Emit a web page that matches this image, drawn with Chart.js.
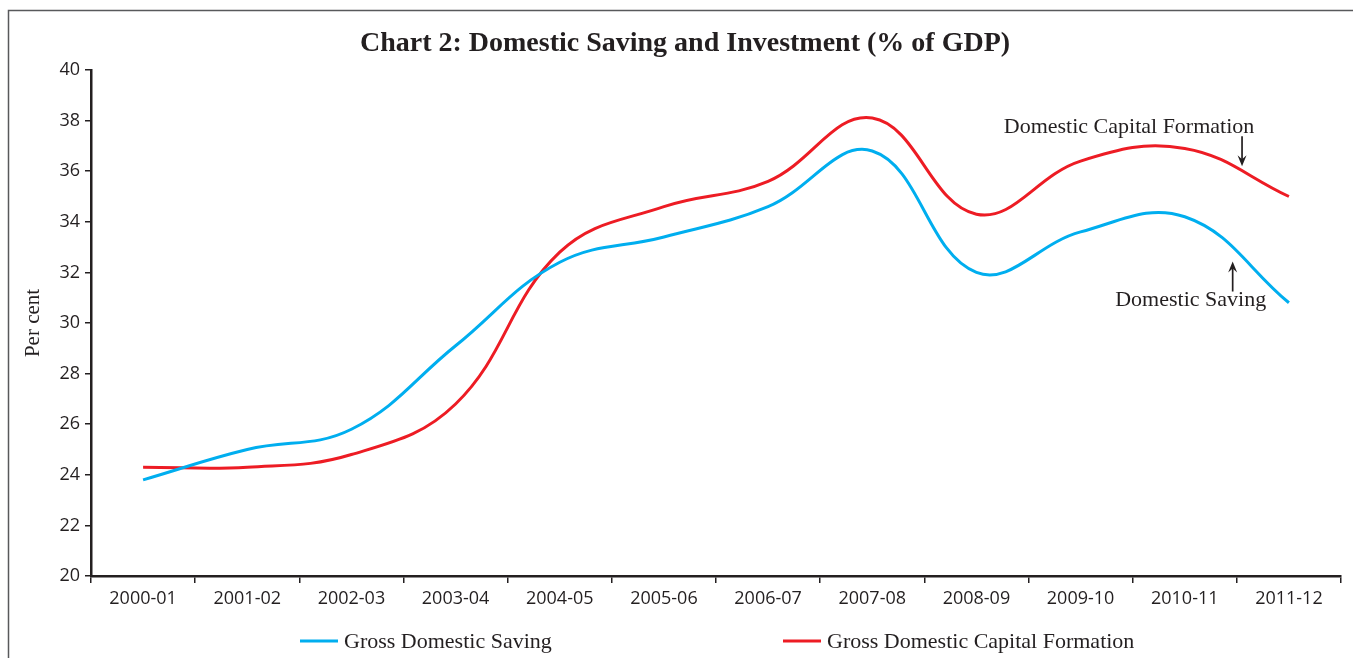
<!DOCTYPE html>
<html>
<head>
<meta charset="utf-8">
<script src="https://cdn.jsdelivr.net/npm/chart.js@4.4.1/dist/chart.umd.min.js"></script>
<style>
  html, body { margin: 0; padding: 0; background: #ffffff; }
  canvas { display: block; }
</style>
</head>
<body>
<canvas id="saving-chart" width="1353" height="658"></canvas>
<script>
// years on the x axis
const years = ['2000-01','2001-02','2002-03','2003-04','2004-05','2005-06','2006-07','2007-08','2008-09','2009-10','2010-11','2011-12'];

// series values, per cent of GDP
const savingValues = [23.8, 25.0, 25.8, 29.1, 32.4, 33.4, 34.6, 36.8, 32.0, 33.6, 34.2, 30.8];
const capitalValues = [24.3, 24.3, 24.8, 26.8, 32.8, 34.6, 35.6, 38.1, 34.3, 36.4, 36.9, 35.0];

// y axis range
const yMin = 20;
const yMax = 40;
const yStep = 2;

const textColor = '#231f20';
const serif = '"Liberation Serif", "DejaVu Serif", serif';
const sans = '"Open Sans", "DejaVu Sans", sans-serif';

// frame + title drawn behind the chart
const framePlugin = {
    id: 'frame',
    beforeDraw(chart) {
        const ctx = chart.ctx;
        ctx.save();
        ctx.fillStyle = '#ffffff';
        ctx.fillRect(0, 0, chart.width, chart.height);
        ctx.strokeStyle = '#58595b';
        ctx.lineWidth = 1.5;
        ctx.beginPath();
        ctx.moveTo(8.5, chart.height);
        ctx.lineTo(8.5, 10.5);
        ctx.lineTo(chart.width, 10.5);
        ctx.stroke();

        ctx.fillStyle = textColor;
        ctx.font = 'bold 28px ' + serif;
        ctx.textAlign = 'center';
        ctx.textBaseline = 'middle';
        ctx.fillText('Chart 2: Domestic Saving and Investment (% of GDP)', 685, 44);
        ctx.restore();
    }
};

// little arrow with a label, placed in data coordinates
function drawArrow(ctx, x, yTip, dir) {
    const len = 30;
    const yTail = yTip - dir * len;
    ctx.beginPath();
    ctx.moveTo(x, yTail);
    ctx.lineTo(x, yTip - dir * 6);
    ctx.stroke();
    ctx.beginPath();
    ctx.moveTo(x, yTip);
    ctx.lineTo(x - 4.5, yTip - dir * 11);
    ctx.lineTo(x, yTip - dir * 7);
    ctx.lineTo(x + 4.5, yTip - dir * 11);
    ctx.closePath();
    ctx.fill();
}

const notesPlugin = {
    id: 'notes',
    afterDatasetsDraw(chart) {
        const ctx = chart.ctx;
        const xs = chart.scales.x;
        const ys = chart.scales.y;
        ctx.save();
        ctx.strokeStyle = textColor;
        ctx.fillStyle = textColor;
        ctx.lineWidth = 1.7;
        ctx.font = '22px ' + serif;
        ctx.textAlign = 'center';
        ctx.textBaseline = 'middle';

        // capital formation: arrow points down to the red line
        let ax = xs.getPixelForValue(10.55);
        let ay = ys.getPixelForValue(36.2);
        drawArrow(ctx, ax, ay, 1);
        ctx.fillText('Domestic Capital Formation', ax - 113, ay - 39);

        // saving: arrow points up to the blue line
        ax = xs.getPixelForValue(10.46);
        ay = ys.getPixelForValue(32.43);
        drawArrow(ctx, ax, ay, -1);
        ctx.fillText('Domestic Saving', ax - 42, ay + 39);

        // legend under the axis
        const legendY = 641;
        const starts = [chart.chartArea.left + 209, chart.chartArea.left + 692];
        chart.data.datasets.forEach((ds, i) => {
            const x0 = starts[i];
            ctx.strokeStyle = ds.borderColor;
            ctx.lineWidth = 3;
            ctx.beginPath();
            ctx.moveTo(x0, legendY);
            ctx.lineTo(x0 + 38, legendY);
            ctx.stroke();
            ctx.fillStyle = textColor;
            ctx.textAlign = 'left';
            ctx.fillText(ds.label, x0 + 44, legendY + 1);
        });
        ctx.restore();
    }
};

const chart = new Chart(document.getElementById('saving-chart').getContext('2d'), {
    type: 'line',
    data: {
        labels: years,
        datasets: [
            {
                label: 'Gross Domestic Saving',
                data: savingValues,
                borderColor: '#00aeef',
                borderWidth: 3,
                pointRadius: 0,
                tension: 0.4,
                fill: false
            },
            {
                label: 'Gross Domestic Capital Formation',
                data: capitalValues,
                borderColor: '#ed1c24',
                borderWidth: 3,
                pointRadius: 0,
                tension: 0.4,
                fill: false
            }
        ]
    },
    options: {
        responsive: false,
        animation: false,
        layout: {
            padding: { left: 0, right: 12, top: 70, bottom: 46 }
        },
        plugins: {
            legend: { display: false },
            title: { display: false },
            tooltip: { enabled: false }
        },
        scales: {
            x: {
                type: 'category',
                offset: true,
                grid: {
                    offset: true,
                    drawOnChartArea: false,
                    drawTicks: true,
                    tickLength: 7,
                    tickColor: textColor,
                    lineWidth: 1.5
                },
                border: { display: true, color: textColor, width: 2.5 },
                ticks: {
                    color: textColor,
                    font: { family: sans, size: 18 },
                    padding: 5,
                    maxRotation: 0,
                    autoSkip: false
                },
                afterFit(scale) { scale.height = 36; }
            },
            y: {
                min: yMin,
                max: yMax,
                grid: {
                    drawOnChartArea: false,
                    drawTicks: true,
                    tickLength: 6,
                    tickColor: textColor,
                    lineWidth: 1.5
                },
                border: { display: true, color: textColor, width: 2.5 },
                ticks: {
                    stepSize: yStep,
                    color: textColor,
                    font: { family: sans, size: 18 },
                    padding: 5
                },
                title: {
                    display: true,
                    text: 'Per cent',
                    color: textColor,
                    font: { family: serif, size: 21 },
                    padding: { top: 21, bottom: 0 }
                },
                afterFit(scale) { scale.width = 91; }
            }
        }
    },
    plugins: [framePlugin, notesPlugin]
});
</script>
</body>
</html>
